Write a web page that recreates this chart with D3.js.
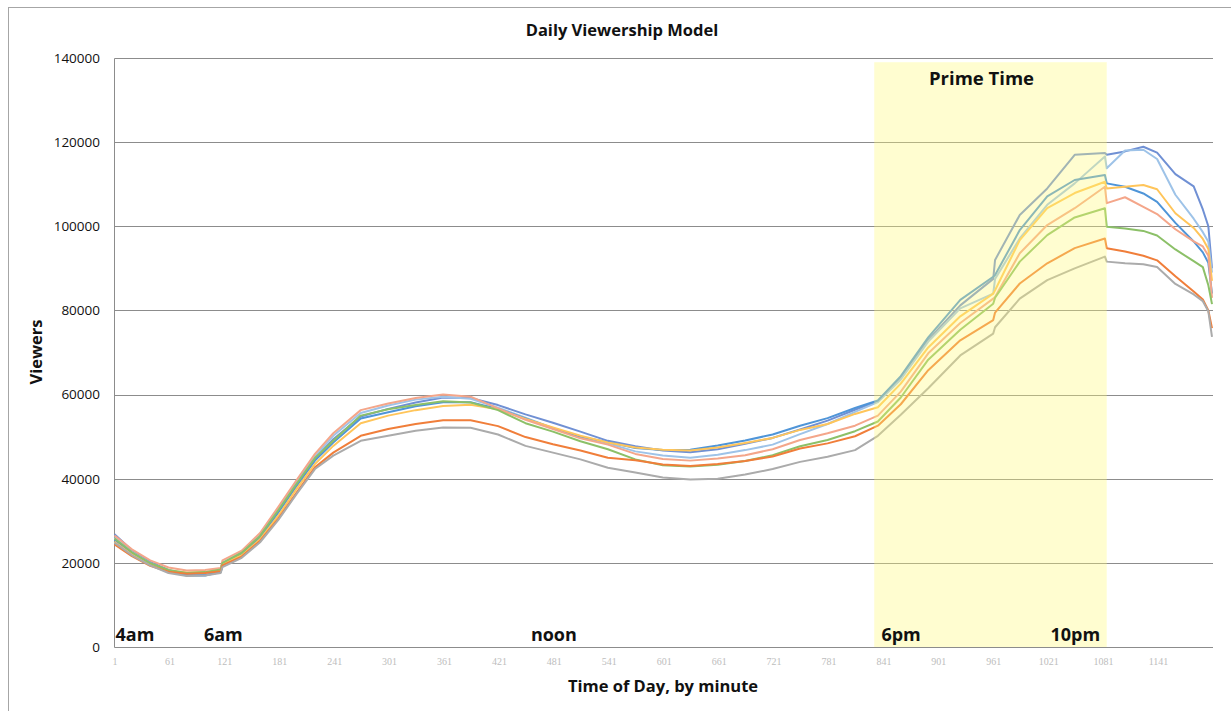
<!DOCTYPE html>
<html>
<head>
<meta charset="utf-8">
<script src="https://cdn.jsdelivr.net/npm/d3@7"></script>
<style>
  body { margin: 0; background: #fff; }
  svg { display: block; }
</style>
</head>
<body>
<script>
const minutes = [1, 20, 40, 60, 80, 100, 117, 119, 140, 160, 180, 200, 220, 240, 270, 300, 330, 360, 390, 420,
  450, 480, 510, 540, 570, 600, 630, 660, 690, 720, 750, 780, 810, 835, 860, 890, 925, 961, 963, 990,
  1020, 1050, 1083, 1085, 1105, 1125, 1140, 1160, 1180, 1190, 1196, 1200];

// one array per modelled day (series)
const seriesA = [26800, 23000, 20200, 18300, 17200, 17300, 18000, 19700, 22300, 26400, 32500, 38800, 44800, 49400, 54800, 56600, 58100, 59300, 59200, 57500,
  55300, 53300, 51200, 49000, 47700, 46700, 46300, 47000, 48300, 49700, 51700, 53800, 56400, 58400, 64000, 73000, 81200, 87500, 92000, 102700,
  109000, 117000, 117400, 117000, 117800, 118900, 117500, 112400, 109500, 104000, 100000, 90000];
const seriesB = [26000, 22600, 19900, 18200, 17500, 17500, 18300, 20000, 22500, 26600, 32800, 39200, 45300, 50200, 55600, 57400, 58800, 59500, 59000, 56900,
  54500, 52000, 49800, 48400, 46500, 45500, 45000, 45700, 46800, 48100, 50600, 53000, 55900, 58200, 63600, 72600, 80500, 84000, 87500, 97100,
  105100, 110200, 116600, 113800, 118000, 118200, 116000, 107500, 101800, 98600, 96300, 89000];
const seriesC = [25500, 22300, 19700, 17900, 17000, 17000, 17800, 19400, 22000, 26000, 32000, 38300, 44300, 48600, 54300, 55800, 57200, 58200, 58200, 56600,
  54300, 52000, 50000, 48700, 47300, 46800, 46900, 47900, 49100, 50500, 52600, 54400, 56800, 58600, 64400, 73600, 82500, 88000, 88400, 99100,
  107100, 111000, 112200, 110200, 109400, 107800, 105800, 100800, 96400, 93800, 91300, 84000];
const seriesD = [25000, 22000, 19600, 18200, 17700, 17800, 18400, 19800, 21800, 25600, 31200, 37600, 43500, 47800, 53200, 55000, 56300, 57300, 57600, 56500,
  54200, 52200, 50200, 48600, 47400, 46900, 46700, 47400, 48500, 49700, 51600, 53000, 55400, 57000, 62600, 71200, 78600, 84000, 84800, 96700,
  104300, 107900, 110600, 109000, 109400, 109800, 108800, 103100, 99600, 97000, 94600, 87000];
const seriesE = [26500, 23200, 20600, 18900, 18200, 18300, 18800, 20600, 22900, 27100, 33300, 39700, 45900, 50800, 56300, 57900, 59200, 60000, 59500, 56700,
  54000, 51800, 49600, 48100, 45900, 44700, 44300, 44800, 45600, 47000, 49200, 50800, 52600, 55000, 60700, 69800, 77000, 82800, 83200, 93600,
  100300, 104300, 109400, 105500, 106900, 104600, 102900, 99300, 96400, 95200, 93000, 83000];
const seriesF = [25800, 22500, 19900, 18300, 17600, 17800, 18400, 20000, 22400, 26400, 32500, 38800, 44900, 49000, 55000, 56500, 57500, 58400, 58100, 56300,
  53200, 51200, 48900, 47000, 44600, 43200, 42900, 43300, 44200, 45600, 47700, 49200, 51300, 53600, 59300, 68300, 75400, 81600, 83000, 91600,
  97900, 102100, 104300, 99900, 99500, 98900, 97800, 94500, 91700, 90300, 86000, 81500];
const seriesG = [24400, 21600, 19300, 17900, 17400, 17600, 18000, 19400, 21500, 25200, 30500, 36700, 42700, 46200, 50200, 51800, 53000, 53900, 53900, 52500,
  49900, 48200, 46700, 45000, 44400, 43400, 43000, 43500, 44200, 45300, 47200, 48400, 50100, 52600, 57700, 65800, 72900, 77700, 79500, 86400,
  91200, 94800, 97100, 94800, 94000, 93000, 91900, 88100, 84500, 82600, 80000, 75800];
const seriesH = [24800, 21800, 19400, 17600, 16900, 17000, 17600, 19000, 21200, 24900, 30200, 36400, 42300, 45500, 49000, 50200, 51400, 52200, 52100, 50500,
  47800, 46200, 44600, 42600, 41500, 40300, 39800, 40000, 41000, 42300, 44000, 45200, 46800, 50200, 55200, 61500, 69300, 74500, 76000, 82800,
  87200, 90000, 92800, 91600, 91200, 91000, 90300, 86300, 83800, 82200, 79800, 73700];

const allSeries = [seriesA, seriesB, seriesC, seriesD, seriesE, seriesF, seriesG, seriesH];
const colors = ["#7090D4", "#9EC3E8", "#4F95D8", "#FFC55A", "#F4A68A", "#8CC068", "#F07E3A", "#ABABAB"];

const yTicks = [0, 20000, 40000, 60000, 80000, 100000, 120000, 140000];
const xTicks = [1, 61, 121, 181, 241, 301, 361, 421, 481, 541, 601, 661, 721, 781, 841, 901, 961, 1021, 1081, 1141];

const timeLabels = ["4am", "6am", "noon", "6pm", "10pm"];
const timeMinutes = [1, 121, 481, 841, 1081];

const primeStart = 831, primeEnd = 1085, primeTop = 139000;

// layout
const W = 1231, H = 711;
const margin = { left: 114.5, right: 1212, top: 58, bottom: 647 };

const svg = d3.select("body").append("svg")
  .attr("width", W)
  .attr("height", H);

// outer frame of the chart (only left and top edges are in view)
svg.append("rect")
  .attr("x", 8.5).attr("y", 7.5)
  .attr("width", W + 10).attr("height", H + 10)
  .attr("fill", "none")
  .attr("stroke", "#a6a6a6")
  .attr("stroke-width", 1);

const x = d3.scaleLinear().domain([1, 1200]).range([margin.left, margin.right]);
const y = d3.scaleLinear().domain([0, 140000]).range([margin.bottom, margin.top]);

// gridlines
svg.append("g")
  .selectAll("line")
  .data(yTicks.filter(d => d > 0))
  .enter()
  .append("line")
  .attr("x1", margin.left).attr("x2", margin.right + 1)
  .attr("y1", d => Math.round(y(d)) + 0.5)
  .attr("y2", d => Math.round(y(d)) + 0.5)
  .attr("stroke", "#8c8c8c")
  .attr("stroke-width", 1);

// y axis labels
const yAxis = svg.append("g")
  .attr("transform", "translate(" + (margin.left - 0.5) + ",0)")
  .call(d3.axisLeft(y).tickValues(yTicks).tickSize(0).tickPadding(14).tickFormat(d3.format("d")));
yAxis.select(".domain").attr("stroke", "#8c8c8c");
yAxis.selectAll("text")
  .style("font-family", "'Open Sans', sans-serif")
  .style("font-size", "13.5px")
  .attr("fill", "#111");

// x axis labels (light grey minutes)
const xAxis = svg.append("g")
  .attr("transform", "translate(0," + (margin.bottom + 0.5) + ")")
  .call(d3.axisBottom(x).tickValues(xTicks).tickSize(0).tickPadding(10).tickFormat(d3.format("d")));
xAxis.select(".domain").attr("stroke", "#8c8c8c").attr("d", "M" + margin.left + ",0H" + (margin.right + 1));
xAxis.selectAll("text")
  .style("font-family", "'Liberation Serif', serif")
  .style("font-size", "10px")
  .attr("fill", "#bdbdbd");

// the series
const line = d3.line()
  .x((d, i) => x(minutes[i]))
  .y(d => y(d));

svg.append("g")
  .selectAll("path")
  .data(allSeries)
  .enter()
  .append("path")
  .attr("d", d => line(d))
  .attr("fill", "none")
  .attr("stroke", (d, i) => colors[i])
  .attr("stroke-width", 2)
  .attr("stroke-linejoin", "round");

// prime time box, drawn over the lines like the translucent shape in the original
svg.append("rect")
  .attr("x", x(primeStart))
  .attr("y", y(primeTop))
  .attr("width", x(primeEnd) - x(primeStart))
  .attr("height", y(0) - y(primeTop))
  .attr("fill", "rgb(255,250,120)")
  .attr("fill-opacity", 0.35);

svg.append("text")
  .text("Prime Time")
  .attr("x", (x(primeStart) + x(primeEnd)) / 2 - 9)
  .attr("y", 85)
  .attr("text-anchor", "middle")
  .style("font-family", "'Open Sans', sans-serif")
  .style("font-weight", "bold")
  .style("font-size", "18.5px")
  .attr("fill", "#111");

// time of day labels
const anchors = ["start", "middle", "middle", "start", "end"];
const nudge = [1, -1, 0, -2, -3];
svg.append("g")
  .selectAll("text")
  .data(timeLabels)
  .enter()
  .append("text")
  .text(d => d)
  .attr("x", (d, i) => x(timeMinutes[i]) + nudge[i])
  .attr("y", 641)
  .attr("text-anchor", (d, i) => anchors[i])
  .style("font-family", "'Open Sans', sans-serif")
  .style("font-weight", "bold")
  .style("font-size", "18px")
  .attr("fill", "#111");

// titles
svg.append("text")
  .text("Daily Viewership Model")
  .attr("x", 622)
  .attr("y", 36)
  .attr("text-anchor", "middle")
  .style("font-family", "'Open Sans', sans-serif")
  .style("font-weight", "bold")
  .style("font-size", "16.5px")
  .attr("fill", "#111");

svg.append("text")
  .text("Time of Day, by minute")
  .attr("x", 663)
  .attr("y", 692)
  .attr("text-anchor", "middle")
  .style("font-family", "'Open Sans', sans-serif")
  .style("font-weight", "bold")
  .style("font-size", "16.5px")
  .attr("fill", "#111");

svg.append("text")
  .text("Viewers")
  .attr("transform", "translate(42,352) rotate(-90)")
  .attr("text-anchor", "middle")
  .style("font-family", "'Open Sans', sans-serif")
  .style("font-weight", "bold")
  .style("font-size", "16.5px")
  .attr("fill", "#111");
</script>
</body>
</html>
